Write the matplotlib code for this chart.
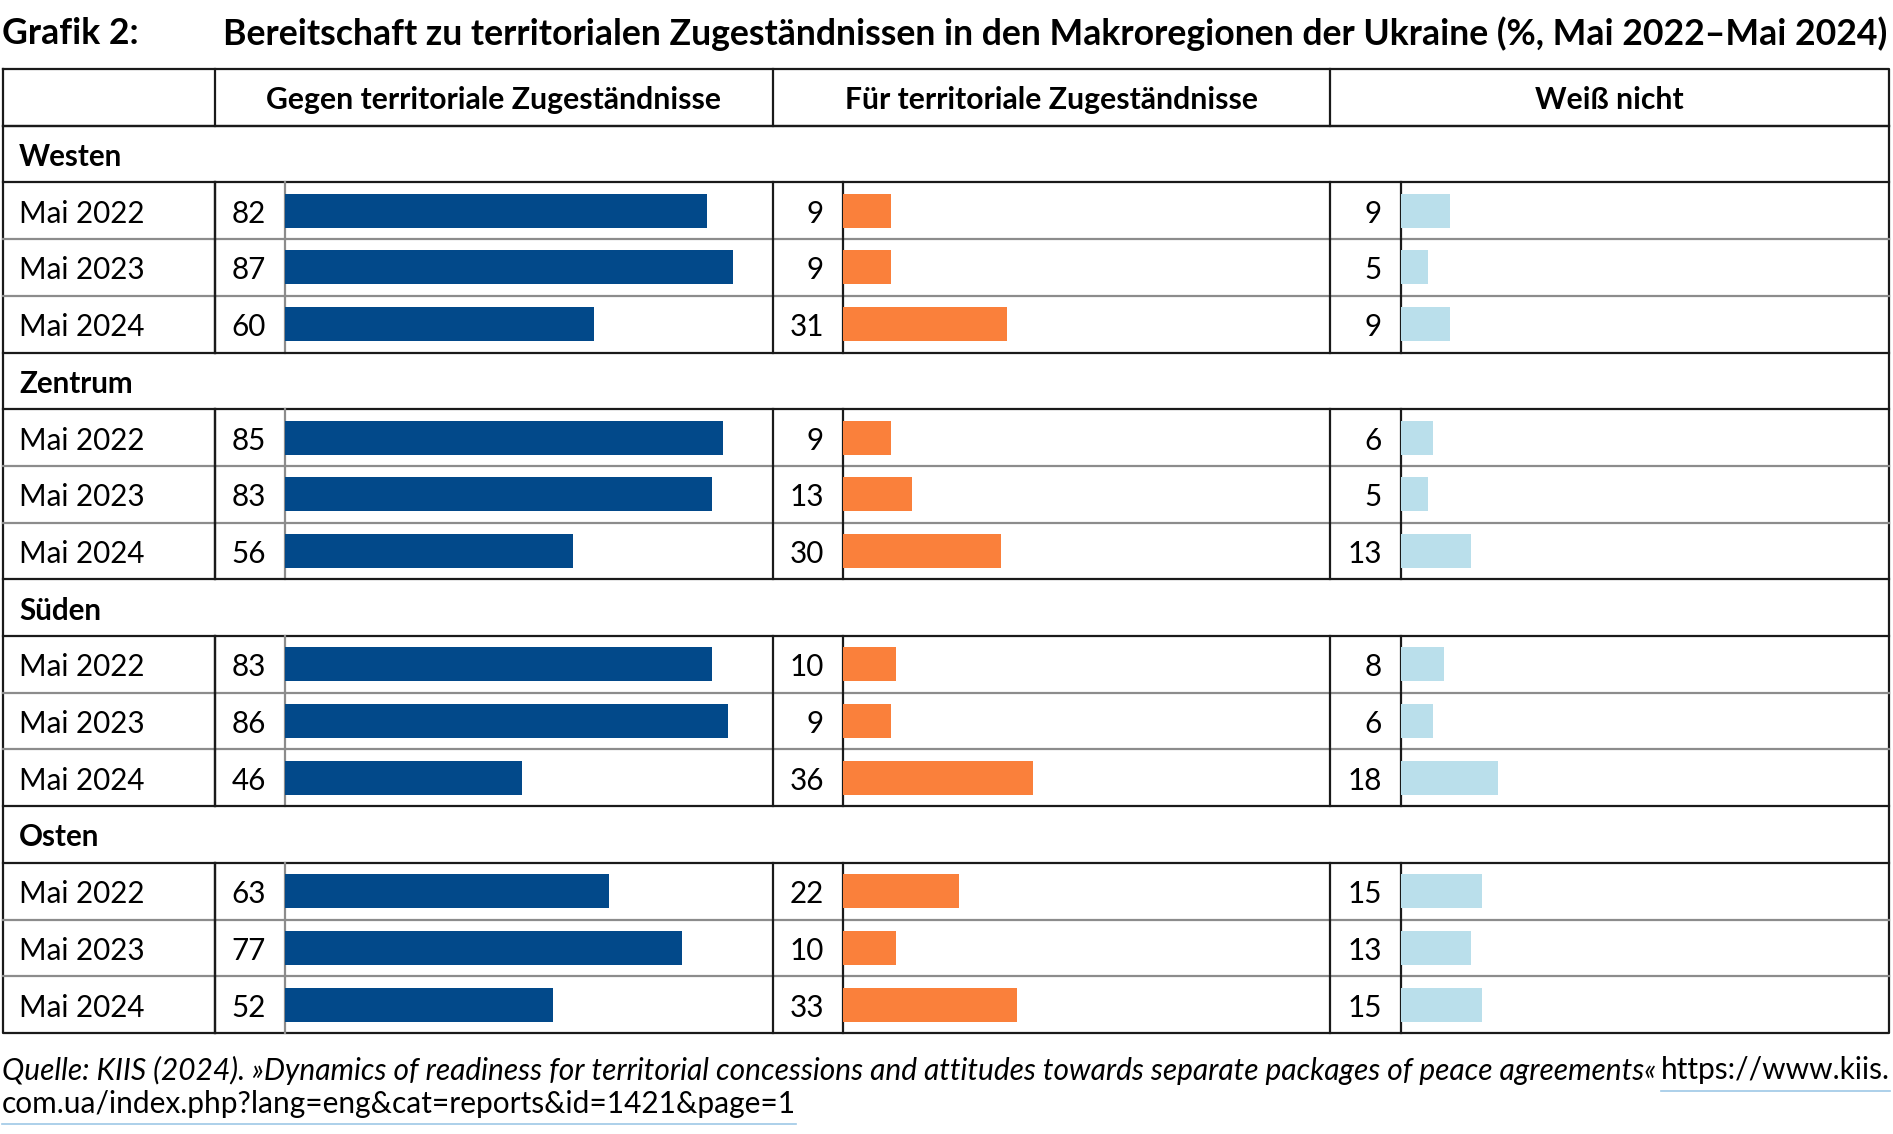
import matplotlib
matplotlib.use("Agg")
import matplotlib.pyplot as plt

# --- data ---
regions = ["Westen", "Zentrum", "Süden", "Osten"]
waves = ["Mai 2022", "Mai 2023", "Mai 2024"]
headers = ["Gegen territoriale Zugeständnisse", "Für territoriale Zugeständnisse", "Weiß nicht"]

gegen = [82, 87, 60, 85, 83, 56, 83, 86, 46, 63, 77, 52]
fuer = [9, 9, 31, 9, 13, 30, 10, 9, 36, 22, 10, 33]
weiss = [9, 5, 9, 6, 5, 13, 8, 6, 18, 15, 13, 15]

title_label = "Grafik 2:"
title = "Bereitschaft zu territorialen Zugeständnissen in den Makroregionen der Ukraine (%, Mai 2022–Mai 2024)"
source = "Quelle: KIIS (2024). »Dynamics of readiness for territorial concessions and attitudes towards separate packages of peace agreements«"
url1 = "https://www.kiis."
url2 = "com.ua/index.php?lang=eng&cat=reports&id=1421&page=1"

colors = ["#02498a", "#fa803b", "#badfeb"]
px_per_unit = [5.15, 5.28, 5.4]

plt.rcParams["font.family"] = ["Lato", "DejaVu Sans"]

W, H = 1893, 1134
fig = plt.figure(figsize=(W / 100, H / 100), dpi=100)
ax = fig.add_axes([0, 0, 1, 1])
ax.set_xlim(0, W)
ax.set_ylim(H, 0)
ax.axis("off")

# table geometry (pixels)
top = 69.0
row_h = 56.7
n_body = len(regions) * (len(waves) + 1)
body_top = top + row_h
bottom = body_top + n_body * row_h
left, right = 2.5, 1889.0
label_r = 215.0
cols = [(215.0, 285.0, 773.0), (773.0, 843.0, 1330.0), (1330.0, 1401.0, 1889.0)]

dark = "#1a1a1a"
gray = "#8c8c8c"
lw = 1.6
fs = 21.3
dy = 3  # small nudge so text sits centred like the original

# title
ax.text(2, 34, title_label, fontsize=25.7, fontweight="bold", va="center", ha="left")
ax.text(223, 34, title, fontsize=25.7, fontweight="bold", va="center", ha="left")

# header row
for (vl, bl, br), h in zip(cols, headers):
    ax.text((vl + br) / 2, top + row_h / 2 + dy, h, fontsize=21.7, fontweight="bold",
            ha="center", va="center")
    ax.plot([vl, vl], [top, body_top], color=dark, lw=lw)

# outer box
ax.plot([left, right, right, left, left], [top, top, bottom, bottom, top], color=dark, lw=lw)
ax.plot([left, right], [body_top, body_top], color=dark, lw=lw)

series = [gegen, fuer, weiss]
for r, reg in enumerate(regions):
    y_reg = body_top + r * 4 * row_h
    ax.text(19, y_reg + row_h / 2 + dy, reg, fontsize=fs, fontweight="bold", va="center", ha="left")
    ax.plot([left, right], [y_reg, y_reg], color=dark, lw=lw)
    ax.plot([left, right], [y_reg + row_h, y_reg + row_h], color=dark, lw=lw)
    for w, wave in enumerate(waves):
        y0 = y_reg + (w + 1) * row_h
        yc = y0 + row_h / 2 + dy
        k = r * 3 + w
        ax.text(19, yc, wave, fontsize=fs, va="center", ha="left")
        if w > 0:
            ax.plot([left, right], [y0, y0], color=gray, lw=lw)
        ax.plot([label_r, label_r], [y0, y0 + row_h], color=dark, lw=lw)
        for c, (vl, bl, br) in enumerate(cols):
            ax.text(bl - 19, yc, str(series[c][k]), fontsize=fs, va="center", ha="right")
            ax.plot([vl, vl], [y0, y0 + row_h], color=dark, lw=lw)
            ax.plot([bl, bl], [y0, y0 + row_h], color=gray if c == 0 else dark, lw=lw)

# bars, one axes per answer column, rows on the y axis
ys = [r * 4 + w + 1 + 0.5 for r in range(len(regions)) for w in range(len(waves))]
for c, (vl, bl, br) in enumerate(cols):
    bax = fig.add_axes([bl / W, 1 - bottom / H, (br - bl) / W, (bottom - body_top) / H])
    bax.set_xlim(0, (br - bl) / px_per_unit[c])
    bax.set_ylim(n_body, 0)
    bax.axis("off")
    bax.barh(ys, series[c], height=0.6, color=colors[c], zorder=0)

# footer
t1 = ax.text(2, 1070, source, fontsize=21.5, style="italic", va="center", ha="left")
t2 = ax.text(1890, 1070, url1, fontsize=21.5, va="center", ha="right")
t3 = ax.text(2, 1104, url2, fontsize=21.5, va="center", ha="left")

fig.canvas.draw()
inv = ax.transData.inverted()
for t, yl in [(t2, 1091), (t3, 1124)]:
    bb = t.get_window_extent()
    (x0, _), (x1, _) = inv.transform([(bb.x0, 0), (bb.x1, 0)])
    ax.plot([x0, x1], [yl, yl], color="#9ec8e6", lw=1.2)

fig.savefig("out.png", dpi=100)
